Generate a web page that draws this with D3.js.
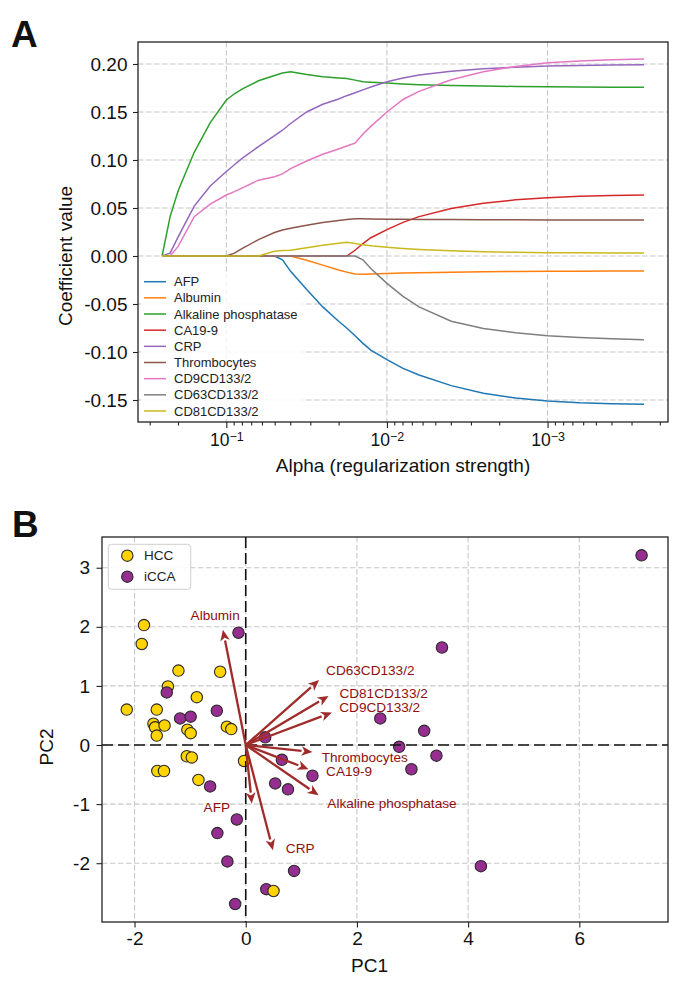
<!DOCTYPE html>
<html>
<head>
<meta charset="utf-8">
<script src="https://cdn.jsdelivr.net/npm/d3@7"></script>
<style>
  body { margin: 0; background: #fff; }
  svg { display: block; font-family: "Liberation Sans", Arial, sans-serif; }
</style>
</head>
<body>
<div id="chart"></div>
<script>
// ---- Panel A data: lasso coefficient paths ----
const alphas = [0.2512, 0.2239, 0.1995, 0.1585, 0.1259, 0.1, 0.0891, 0.0794, 0.0631, 0.0501,
  0.0447, 0.0398, 0.0316, 0.0251, 0.02, 0.0178, 0.0158, 0.0141, 0.0126, 0.01,
  0.00794, 0.00631, 0.00398, 0.00251, 0.00158, 0.001, 0.000631, 0.000398, 0.000251];

const afp = [0, 0, 0, 0, 0, 0, 0, 0, 0, 0, -0.004, -0.016, -0.035, -0.053, -0.068, -0.075, -0.083, -0.091, -0.098, -0.108,
  -0.117, -0.124, -0.135, -0.143, -0.148, -0.151, -0.1528, -0.1538, -0.1545];
const albumin = [0, 0, 0, 0, 0, 0, 0, 0, 0, 0, 0, 0, -0.0045, -0.0095, -0.0145, -0.0168, -0.0188, -0.019, -0.0187, -0.0182,
  -0.0178, -0.0175, -0.017, -0.0165, -0.0162, -0.016, -0.0158, -0.0157, -0.0156];
const alkPhos = [0, 0.041, 0.068, 0.108, 0.139, 0.1625, 0.169, 0.174, 0.1825, 0.188, 0.1905, 0.1918, 0.189, 0.1868, 0.1855, 0.1848, 0.1832, 0.1815, 0.181, 0.1802,
  0.1792, 0.1785, 0.1775, 0.177, 0.1766, 0.1763, 0.176, 0.1758, 0.1757];
const ca199 = [0, 0, 0, 0, 0, 0, 0, 0, 0, 0, 0, 0, 0, 0, 0, 0, 0.006, 0.013, 0.019, 0.0275,
  0.035, 0.041, 0.0495, 0.055, 0.0585, 0.0607, 0.0622, 0.063, 0.0635];
const crp = [0, 0.003, 0.02, 0.052, 0.073, 0.088, 0.095, 0.102, 0.114, 0.1255, 0.131, 0.138, 0.15, 0.158, 0.1635, 0.167, 0.17, 0.173, 0.176, 0.1815,
  0.1855, 0.1885, 0.1925, 0.195, 0.1967, 0.1978, 0.1985, 0.199, 0.1993];
const thrombocytes = [0, 0, 0, 0, 0, 0, 0.003, 0.008, 0.017, 0.0245, 0.027, 0.029, 0.032, 0.035, 0.037, 0.038, 0.0388, 0.0388, 0.0386, 0.0384,
  0.0382, 0.038, 0.0379, 0.0378, 0.0377, 0.0376, 0.0376, 0.0375, 0.0375];
const cd9 = [0, 0, 0.01, 0.041, 0.054, 0.0635, 0.067, 0.071, 0.079, 0.0826, 0.0855, 0.091, 0.099, 0.106, 0.1115, 0.1145, 0.1175, 0.127, 0.135, 0.15,
  0.163, 0.1715, 0.1835, 0.192, 0.1975, 0.2012, 0.2032, 0.2045, 0.2052];
const cd63 = [0, 0, 0, 0, 0, 0, 0, 0, 0, 0, 0, 0, 0, 0, 0, 0, 0, -0.004, -0.013, -0.0285,
  -0.042, -0.053, -0.068, -0.0755, -0.08, -0.083, -0.085, -0.0863, -0.0873];
const cd81 = [0, 0, 0, 0, 0, 0, 0, 0, 0, 0.005, 0.0057, 0.006, 0.0085, 0.0112, 0.0132, 0.0142, 0.013, 0.0116, 0.0106, 0.009,
  0.0078, 0.0068, 0.0055, 0.0045, 0.0038, 0.0035, 0.0033, 0.0032, 0.0031];

const featureNames = ['AFP', 'Albumin', 'Alkaline phosphatase', 'CA19-9', 'CRP',
  'Thrombocytes', 'CD9CD133/2', 'CD63CD133/2', 'CD81CD133/2'];
const featurePaths = [afp, albumin, alkPhos, ca199, crp, thrombocytes, cd9, cd63, cd81];
const featureColors = ['#1f77b4', '#ff7f0e', '#2ca02c', '#d62728', '#9467bd',
  '#8c564b', '#e377c2', '#7f7f7f', '#c9b91c'];
const coefTicks = [-0.15, -0.1, -0.05, 0, 0.05, 0.1, 0.15, 0.2];
const alphaMajorTicks = [0.1, 0.01, 0.001];

// ---- Panel B data: PCA scores and loadings ----
const samplePC1 = [-2.14, -1.83, -1.87, -1.21, -0.46, -1.40, -0.88, -1.60, -1.66, -1.63, -1.60, -1.46, -1.05, -0.99, -0.34, -0.26,
  -1.59, -1.47, -1.06, -0.97, -0.85, -0.03,
  -0.13, -1.42, -1.18, -0.99, -0.52, 0.35, 7.12, 3.53, 2.42, 3.21, 2.76, 3.43, 2.98, 4.23,
  0.65, 1.20, 0.53, 0.76, -0.64, -0.16, -0.51, -0.33, 0.87, 0.37, -0.19, 0.50];
const samplePC2 = [0.60, 2.03, 1.71, 1.26, 1.24, 0.99, 0.81, 0.60, 0.36, 0.30, 0.16, 0.33, 0.26, 0.20, 0.31, 0.27,
  -0.44, -0.44, -0.19, -0.21, -0.59, -0.27,
  1.90, 0.89, 0.45, 0.48, 0.58, 0.13, 3.21, 1.65, 0.45, 0.24, -0.03, -0.18, -0.41, -2.05,
  -0.25, -0.52, -0.65, -0.75, -0.70, -1.26, -1.49, -1.97, -2.13, -2.44, -2.69, -2.47];
const sampleGroup = ['HCC', 'HCC', 'HCC', 'HCC', 'HCC', 'HCC', 'HCC', 'HCC', 'HCC', 'HCC', 'HCC', 'HCC', 'HCC', 'HCC', 'HCC', 'HCC',
  'HCC', 'HCC', 'HCC', 'HCC', 'HCC', 'HCC',
  'iCCA', 'iCCA', 'iCCA', 'iCCA', 'iCCA', 'iCCA', 'iCCA', 'iCCA', 'iCCA', 'iCCA', 'iCCA', 'iCCA', 'iCCA', 'iCCA',
  'iCCA', 'iCCA', 'iCCA', 'iCCA', 'iCCA', 'iCCA', 'iCCA', 'iCCA', 'iCCA', 'iCCA', 'iCCA', 'HCC'];
const groups = ['HCC', 'iCCA'];
const groupColors = ['#ffd400', '#962d91'];

const loadingNames = ['AFP', 'Albumin', 'Alkaline phosphatase', 'CA19-9', 'CRP',
  'Thrombocytes', 'CD9CD133/2', 'CD63CD133/2', 'CD81CD133/2'];
const loadingPC1 = [0.11, -0.41, 1.31, 1.13, 0.49, 1.20, 1.55, 1.32, 1.49];
const loadingPC2 = [-0.99, 1.95, -0.85, -0.41, -1.78, -0.12, 0.55, 1.10, 0.83];
const labelPC1 = [-0.52, -0.55, 2.63, 1.86, 0.98, 2.14, 2.41, 2.24, 2.48];
const labelPC2 = [-1.05, 2.20, -0.99, -0.45, -1.75, -0.20, 0.64, 1.27, 0.87];
const pc1Ticks = [-2, 0, 2, 4, 6];
const pc2Ticks = [-2, -1, 0, 1, 2, 3];

const svg = d3.select('#chart')
  .append('svg')
    .attr('width', 692)
    .attr('height', 994);

svg.append('rect').attr('width', 692).attr('height', 994).attr('fill', '#fff');

const gridColor = '#c8c8c8';
const fmtMinus = s => s.replace('\u2212', '-');

function styleAxis(g, size) {
  g.attr('font-family', null).attr('font-size', size);
  g.select('.domain').remove();
  g.selectAll('line').attr('stroke', '#222').attr('stroke-width', 1.1);
  g.selectAll('text').attr('fill', '#111');
}

// ================= Panel A =================
const a = { left: 138, right: 668, top: 42, bottom: 422 };

const x = d3.scaleLog()
  .domain([Math.pow(10, -0.45), Math.pow(10, -3.75)])
  .range([a.left, a.right]);

const y = d3.scaleLinear()
  .domain([-0.1729, 0.2229])
  .range([a.bottom, a.top]);

const gA = svg.append('g');

// grid
gA.append('g').selectAll('line')
  .data(alphaMajorTicks)
  .join('line')
    .attr('x1', d => x(d)).attr('x2', d => x(d))
    .attr('y1', a.top).attr('y2', a.bottom)
    .attr('stroke', gridColor).attr('stroke-width', 1.1).attr('stroke-dasharray', '5.5,2.5');

gA.append('g').selectAll('line')
  .data(coefTicks)
  .join('line')
    .attr('x1', a.left).attr('x2', a.right)
    .attr('y1', d => y(d)).attr('y2', d => y(d))
    .attr('stroke', gridColor).attr('stroke-width', 1.1).attr('stroke-dasharray', '5.5,2.5');

// legend background sits under the paths so that they stay visible
const legA = gA.append('g');
legA.append('rect')
  .attr('x', 141).attr('y', 272).attr('width', 162).attr('height', 147)
  .attr('fill', '#fff').attr('fill-opacity', 0.8);

// coefficient paths
const line = d3.line()
  .x((d, i) => x(alphas[i]))
  .y(d => y(d));

gA.append('g').selectAll('path')
  .data(featurePaths)
  .join('path')
    .attr('d', d => line(d))
    .attr('fill', 'none')
    .attr('stroke', (d, i) => featureColors[i])
    .attr('stroke-width', 1.5);

const legItems = gA.append('g');
featureNames.forEach((name, i) => {
  const ly = 281.7 + i * 16.16;
  legItems.append('line')
    .attr('x1', 144).attr('x2', 166).attr('y1', ly).attr('y2', ly)
    .attr('stroke', featureColors[i]).attr('stroke-width', 1.5);
  legItems.append('text')
    .attr('x', 174).attr('y', ly).attr('dy', '0.35em')
    .attr('font-size', 13).attr('fill', '#222')
    .text(name);
});

// axes
const xMinor = x.ticks().filter(t => !alphaMajorTicks.some(m => Math.abs(m - t) / m < 1e-6));

gA.append('g')
    .attr('transform', `translate(0, ${a.bottom})`)
    .call(d3.axisBottom(x).tickValues(xMinor).tickSize(3.5).tickFormat(''))
    .call(g => styleAxis(g, 17));

gA.append('g')
    .attr('transform', `translate(0, ${a.bottom})`)
    .call(d3.axisBottom(x).tickValues(alphaMajorTicks).tickSize(6).tickPadding(6).tickFormat(''))
    .call(g => styleAxis(g, 17.5))
    .selectAll('.tick text')
    .each(function(d) {
      const t = d3.select(this);
      t.append('tspan').text('10');
      t.append('tspan')
        .attr('font-size', 12.5).attr('dy', '-0.42em')
        .text('\u2212' + Math.round(-Math.log10(d)));
    });

gA.append('g')
    .attr('transform', `translate(${a.left}, 0)`)
    .call(d3.axisLeft(y).tickValues(coefTicks).tickSize(5).tickPadding(5.5)
      .tickFormat(d => fmtMinus(d3.format('.2f')(d))))
    .call(g => styleAxis(g, 19));

gA.append('rect')
  .attr('x', a.left).attr('y', a.top)
  .attr('width', a.right - a.left).attr('height', a.bottom - a.top)
  .attr('fill', 'none').attr('stroke', '#222').attr('stroke-width', 1.3);

gA.append('text')
  .attr('x', (a.left + a.right) / 2).attr('y', 472)
  .attr('text-anchor', 'middle').attr('font-size', 19).attr('fill', '#111')
  .text('Alpha (regularization strength)');

gA.append('text')
  .attr('transform', 'translate(71.5, 256) rotate(-90)')
  .attr('text-anchor', 'middle').attr('font-size', 19).attr('fill', '#111')
  .text('Coefficient value');

svg.append('text')
  .attr('x', 11).attr('y', 46.7)
  .attr('font-size', 37).attr('font-weight', 'bold').attr('fill', '#111')
  .text('A');

// ================= Panel B =================
const b = { left: 102, right: 668, top: 537, bottom: 922 };

const px = d3.scaleLinear()
  .domain([-2.585, 7.595])
  .range([b.left, b.right]);

const py = d3.scaleLinear()
  .domain([-2.995, 3.52])
  .range([b.bottom, b.top]);

const gB = svg.append('g');

gB.append('g').selectAll('line')
  .data(pc1Ticks)
  .join('line')
    .attr('x1', d => px(d)).attr('x2', d => px(d))
    .attr('y1', b.top).attr('y2', b.bottom)
    .attr('stroke', gridColor).attr('stroke-width', 1.1).attr('stroke-dasharray', '5.5,2.5');

gB.append('g').selectAll('line')
  .data(pc2Ticks)
  .join('line')
    .attr('x1', b.left).attr('x2', b.right)
    .attr('y1', d => py(d)).attr('y2', d => py(d))
    .attr('stroke', gridColor).attr('stroke-width', 1.1).attr('stroke-dasharray', '5.5,2.5');

// samples
gB.append('g').selectAll('circle')
  .data(samplePC1)
  .join('circle')
    .attr('cx', d => px(d))
    .attr('cy', (d, i) => py(samplePC2[i]))
    .attr('r', 5.7)
    .attr('fill', (d, i) => groupColors[groups.indexOf(sampleGroup[i])])
    .attr('stroke', '#2a2a2a').attr('stroke-width', 1.1);

// zero lines
gB.append('line')
  .attr('x1', px(0)).attr('x2', px(0)).attr('y1', b.top).attr('y2', b.bottom)
  .attr('stroke', '#111').attr('stroke-width', 1.6).attr('stroke-dasharray', '11,5');
gB.append('line')
  .attr('x1', b.left).attr('x2', b.right).attr('y1', py(0)).attr('y2', py(0))
  .attr('stroke', '#111').attr('stroke-width', 1.6).attr('stroke-dasharray', '11,5');

// loading arrows
const arrowColor = '#a02b2b';
const arrows = gB.append('g');
loadingPC1.forEach((lx, i) => {
  const x0 = px(0), y0 = py(0);
  const x1 = px(lx), y1 = py(loadingPC2[i]);
  const len = Math.hypot(x1 - x0, y1 - y0);
  const ux = (x1 - x0) / len, uy = (y1 - y0) / len;
  const hl = 11, hw = 4.8;
  const bx = x1 - ux * hl, by = y1 - uy * hl;
  arrows.append('line')
    .attr('x1', x0).attr('y1', y0).attr('x2', bx).attr('y2', by)
    .attr('stroke', arrowColor).attr('stroke-width', 2.3);
  arrows.append('path')
    .attr('d', `M${x1},${y1}L${bx - uy * hw},${by + ux * hw}L${bx + ux * 3},${by + uy * 3}L${bx + uy * hw},${by - ux * hw}Z`)
    .attr('fill', arrowColor);
});

gB.append('g').selectAll('text')
  .data(loadingNames)
  .join('text')
    .attr('x', (d, i) => px(labelPC1[i]))
    .attr('y', (d, i) => py(labelPC2[i]))
    .attr('dy', '0.35em')
    .attr('text-anchor', 'middle')
    .attr('font-size', 13.6)
    .attr('fill', '#8f0f0f')
    .text(d => d);

// legend
const legB = gB.append('g');
legB.append('rect')
  .attr('x', 108.3).attr('y', 544.3).attr('width', 82.4).attr('height', 45).attr('rx', 3)
  .attr('fill', '#fff').attr('fill-opacity', 0.85)
  .attr('stroke', '#cfcfcf').attr('stroke-width', 1);
groups.forEach((g, i) => {
  const ly = 555.7 + i * 21;
  legB.append('circle')
    .attr('cx', 127.3).attr('cy', ly).attr('r', 5.7)
    .attr('fill', groupColors[i]).attr('stroke', '#2a2a2a').attr('stroke-width', 1.1);
  legB.append('text')
    .attr('x', 144).attr('y', ly).attr('dy', '0.35em')
    .attr('font-size', 13.5).attr('fill', '#222')
    .text(g);
});

// axes
gB.append('g')
    .attr('transform', `translate(0, ${b.bottom})`)
    .call(d3.axisBottom(px).tickValues(pc1Ticks).tickSize(5.5).tickPadding(4)
      .tickFormat(d => fmtMinus(d3.format('d')(d))))
    .call(g => styleAxis(g, 19));

gB.append('g')
    .attr('transform', `translate(${b.left}, 0)`)
    .call(d3.axisLeft(py).tickValues(pc2Ticks).tickSize(5.5).tickPadding(6.5)
      .tickFormat(d => fmtMinus(d3.format('d')(d))))
    .call(g => styleAxis(g, 19));

gB.append('rect')
  .attr('x', b.left).attr('y', b.top)
  .attr('width', b.right - b.left).attr('height', b.bottom - b.top)
  .attr('fill', 'none').attr('stroke', '#222').attr('stroke-width', 1.3);

gB.append('text')
  .attr('x', 369.5).attr('y', 972)
  .attr('text-anchor', 'middle').attr('font-size', 19).attr('fill', '#111')
  .text('PC1');

gB.append('text')
  .attr('transform', 'translate(53, 747) rotate(-90)')
  .attr('text-anchor', 'middle').attr('font-size', 19).attr('fill', '#111')
  .text('PC2');

svg.append('text')
  .attr('x', 12).attr('y', 537.3)
  .attr('font-size', 37).attr('font-weight', 'bold').attr('fill', '#111')
  .text('B');
</script>
</body>
</html>
